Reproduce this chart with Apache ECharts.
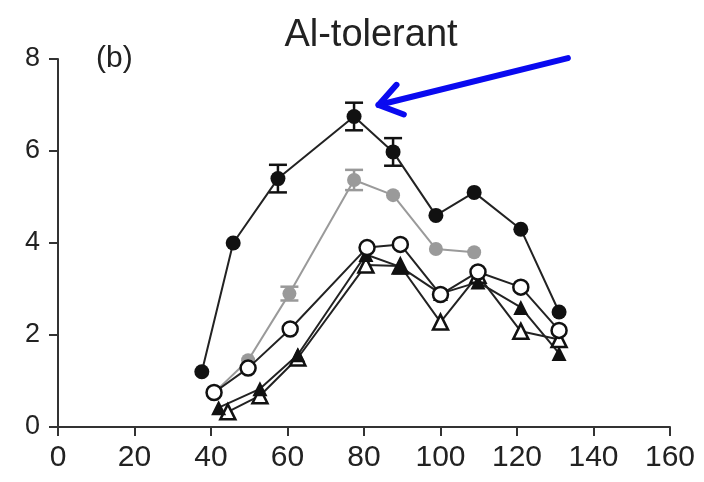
<!DOCTYPE html>
<html>
<head>
<meta charset="utf-8">
<script src="https://cdn.jsdelivr.net/npm/echarts@6/dist/echarts.min.js"></script>
<style>html,body{margin:0;padding:0;background:#fff}#c{width:704px;height:482px}</style>
</head>
<body>
<div id="c"></div>
<script>
// ---- data ----
var titleText = 'Al-tolerant';
var panelLabel = '(b)';
var xTicks = [0, 20, 40, 60, 80, 100, 120, 140, 160];
var yTicks = [0, 2, 4, 6, 8];

var blackX   = [37.6, 45.8, 57.5, 77.4, 87.6, 98.8, 108.8, 121, 131];
var blackY   = [1.2, 4.0, 5.4, 6.75, 5.98, 4.6, 5.1, 4.3, 2.5];
var blackErr = [0, 0, 0.3, 0.3, 0.3, 0, 0, 0, 0];

var grayX    = [40.5, 49.7, 60.5, 77.4, 87.6, 98.8, 108.8];
var grayY    = [0.72, 1.45, 2.9, 5.37, 5.04, 3.87, 3.8];
var grayErr  = [0, 0, 0.15, 0.22, 0, 0, 0];

var openCircX = [40.8, 49.7, 60.7, 80.8, 89.5, 100, 109.8, 121, 131];
var openCircY = [0.75, 1.28, 2.13, 3.9, 3.97, 2.88, 3.37, 3.04, 2.1];

var fillTriX = [42, 52.8, 62.7, 80.5, 89.5, 100, 109.8, 121, 131];
var fillTriY = [0.42, 0.83, 1.57, 3.75, 3.48, 2.9, 3.15, 2.6, 1.6];

var openTriX = [44.4, 52.8, 62.7, 80.5, 89.5, 100, 109.8, 121, 131];
var openTriY = [0.33, 0.68, 1.5, 3.52, 3.5, 2.28, 3.3, 2.08, 1.9];

// arrow annotation (data coordinates): tail -> tip
var arrowTail = [133.3, 8.02];
var arrowTip  = [83.8, 7.0];

function pairs(xs, ys) { return xs.map(function (x, i) { return [x, ys[i]]; }); }
function errPairs(xs, ys, es) {
  var out = [];
  xs.forEach(function (x, i) { if (es[i] > 0) out.push([x, ys[i] - es[i], ys[i] + es[i]]); });
  return out;
}
function errSeries(data, color) {
  return {
    type: 'custom', z: 1,
    data: data,
    renderItem: function (params, api) {
      var x = api.value(0);
      var lo = api.coord([x, api.value(1)]);
      var hi = api.coord([x, api.value(2)]);
      var hw = 9;
      var st = { stroke: color, lineWidth: 2.5 };
      return { type: 'group', children: [
        { type: 'line', shape: { x1: lo[0], y1: lo[1], x2: hi[0], y2: hi[1] }, style: st },
        { type: 'line', shape: { x1: lo[0] - hw, y1: lo[1], x2: lo[0] + hw, y2: lo[1] }, style: st },
        { type: 'line', shape: { x1: hi[0] - hw, y1: hi[1], x2: hi[0] + hw, y2: hi[1] }, style: st }
      ]};
    }
  };
}

var chart = echarts.init(document.getElementById('c'));
var axisCol = '#333';
var font = 'Liberation Sans, Arial, sans-serif';
var option = {
  animation: false,
  backgroundColor: '#fff',
  title: {
    text: titleText, left: 366, top: 12, textAlign: 'center',
    textStyle: { fontFamily: font, fontSize: 38, fontWeight: 'normal', color: '#222' }
  },
  graphic: [{
    type: 'text', left: 96, top: 44,
    style: { text: panelLabel, fontFamily: font, fontSize: 30, fill: '#222' }
  }],
  grid: { left: 58, right: 34, top: 59, bottom: 55 },
  xAxis: {
    type: 'value', min: xTicks[0], max: xTicks[xTicks.length - 1], interval: 20,
    axisLine: { lineStyle: { color: axisCol, width: 2 } },
    axisTick: { length: 9, lineStyle: { color: axisCol, width: 2 } },
    axisLabel: { margin: 16, fontFamily: font, fontSize: 30, color: '#222' },
    splitLine: { show: false }
  },
  yAxis: {
    type: 'value', min: yTicks[0], max: yTicks[yTicks.length - 1], interval: 2,
    axisLine: { show: true, lineStyle: { color: axisCol, width: 2 } },
    axisTick: { show: true, length: 9, lineStyle: { color: axisCol, width: 2 } },
    axisLabel: { margin: 18, fontFamily: font, fontSize: 27, color: '#222' },
    splitLine: { show: false }
  },
  series: [
    errSeries(errPairs(grayX, grayY, grayErr), '#999'),
    errSeries(errPairs(blackX, blackY, blackErr), '#111'),
    { type: 'line', z: 2, data: pairs(grayX, grayY), symbol: 'circle', symbolSize: 14,
      lineStyle: { color: '#9a9a9a', width: 2 }, itemStyle: { color: '#9a9a9a' } },
    { type: 'line', z: 3, data: pairs(openTriX, openTriY), symbol: 'triangle', symbolSize: 15,
      lineStyle: { color: '#222', width: 2 }, itemStyle: { color: '#fff', borderColor: '#111', borderWidth: 2.5 } },
    { type: 'line', z: 3, data: pairs(fillTriX, fillTriY), symbol: 'triangle', symbolSize: 15,
      lineStyle: { color: '#222', width: 2 }, itemStyle: { color: '#111' } },
    { type: 'line', z: 4, data: pairs(openCircX, openCircY), symbol: 'circle', symbolSize: 15,
      lineStyle: { color: '#222', width: 2 }, itemStyle: { color: '#fff', borderColor: '#111', borderWidth: 2.5 } },
    { type: 'line', z: 5, data: pairs(blackX, blackY), symbol: 'circle', symbolSize: 15,
      lineStyle: { color: '#222', width: 2 }, itemStyle: { color: '#111' } }
  ]
};
chart.setOption(option);

// arrow annotation positioned through the chart's own scales
var t0 = chart.convertToPixel({ gridIndex: 0 }, arrowTail);
var t1 = chart.convertToPixel({ gridIndex: 0 }, arrowTip);
var dx = t0[0] - t1[0], dy = t0[1] - t1[1];
var L = Math.sqrt(dx * dx + dy * dy); dx /= L; dy /= L;
function rot(a) { var c = Math.cos(a), s = Math.sin(a); return [t1[0] + 27 * (dx * c - dy * s), t1[1] + 27 * (dx * s + dy * c)]; }
var w1 = rot(0.6), w2 = rot(-0.6);
var blue = '#0a0aF0';
chart.setOption({ graphic: [
  { type: 'text', left: 96, top: 44, style: { text: panelLabel, fontFamily: font, fontSize: 30, fill: '#222' } },
  { type: 'polyline', z: 100, shape: { points: [t0, t1] }, style: { stroke: blue, lineWidth: 6, lineCap: 'round' } },
  { type: 'polyline', z: 100, shape: { points: [w1, t1, w2] }, style: { stroke: blue, lineWidth: 6, lineCap: 'round', lineJoin: 'round', fill: null } }
]});
</script>
</body>
</html>
